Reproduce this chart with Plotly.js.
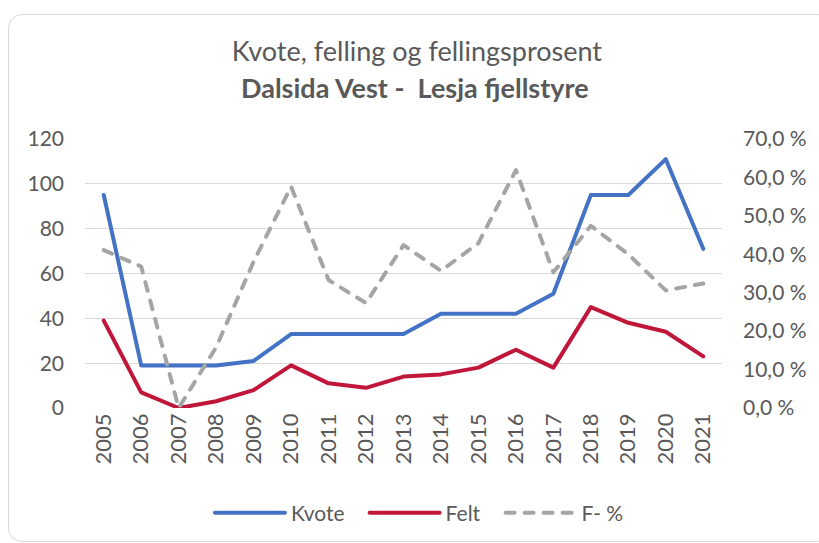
<!DOCTYPE html>
<html>
<head>
<meta charset="utf-8">
<script src="https://cdn.plot.ly/plotly-3.0.1.min.js"></script>
<style>
html,body{margin:0;padding:0;background:#fff;}
#chart{width:819px;height:543px;position:absolute;left:0;top:0;}
#frame{position:absolute;left:8px;top:14px;width:822px;height:526px;border:1.5px solid #d9d9d9;border-radius:14px;pointer-events:none;}
</style>
</head>
<body>
<div id="chart"></div>
<div id="frame"></div>
<script>
const years = ['2005','2006','2007','2008','2009','2010','2011','2012','2013','2014','2015','2016','2017','2018','2019','2020','2021'];
const kvote = [95,19,19,19,21,33,33,33,33,42,42,42,51,95,95,111,71];
const felt  = [39,7,0,3,8,19,11,9,14,15,18,26,18,45,38,34,23];
const fPct  = [41.1,36.8,0.0,15.8,38.1,57.6,33.3,27.3,42.4,35.7,42.9,61.9,35.3,47.4,40.0,30.6,32.4];

const titleText = 'Kvote, felling og fellingsprosent';
const subTitleText = 'Dalsida Vest -  Lesja fjellstyre';

const txt = '#595959';
const fontFam = 'Lato, "Open Sans", sans-serif';

const traces = [
  {x: years, y: kvote, name: 'Kvote', type: 'scatter', mode: 'lines',
   line: {color: '#4472C4', width: 4}},
  {x: years, y: felt, name: 'Felt', type: 'scatter', mode: 'lines',
   line: {color: '#C0163A', width: 4}},
  {x: years, y: fPct, name: 'F- %', type: 'scatter', mode: 'lines', yaxis: 'y2',
   line: {color: '#A5A5A5', width: 4, dash: '9px,10px'}}
];

const layout = {
  width: 819, height: 543,
  paper_bgcolor: '#fff', plot_bgcolor: '#fff',
  separators: ', ',
  font: {family: fontFam, color: txt, size: 21},
  margin: {l: 85, r: 97, t: 139, b: 135},
  title: {text: titleText, font: {family: fontFam, size: 27, color: txt},
          x: 0.509, xanchor: 'center', y: 1 - 52 / 543, yanchor: 'middle', yref: 'container'},
  annotations: [{text: '<b>' + subTitleText + '</b>', xref: 'paper', yref: 'paper',
    x: 0.518, y: 1.0 + (139 - 88) / 269, xanchor: 'center', yanchor: 'middle',
    showarrow: false, font: {family: fontFam, size: 27, color: txt}}],
  xaxis: {type: 'category', range: [-0.5, 16.5], tickangle: -90, showgrid: false,
          showline: false, ticks: '', tickfont: {size: 22, color: txt}, fixedrange: true,
          automargin: false},
  yaxis: {range: [0, 120], dtick: 20, tick0: 0, gridcolor: '#d9d9d9', gridwidth: 1.3,
          zeroline: false, showline: false, ticks: '', tickfont: {size: 21, color: txt},
          ticklabelstandoff: 20, automargin: false},
  yaxis2: {range: [0, 70], dtick: 10, tick0: 0, overlaying: 'y', side: 'right',
           showgrid: false, zeroline: false, showline: false, ticks: '',
           tickformat: '.1f', ticksuffix: ' %', tickfont: {size: 21, color: txt},
           ticklabelstandoff: 20, automargin: false},
  legend: {orientation: 'h', x: 0.503, xanchor: 'center', xref: 'container',
           y: 1 - 513 / 543, yanchor: 'middle', yref: 'container',
           font: {size: 21, color: txt}, itemwidth: 86, tracegroupgap: 0},
  showlegend: true
};

Plotly.newPlot('chart', traces, layout, {displayModeBar: false, staticPlot: true}).then(function (gd) {
  gd.querySelectorAll('.legendlines path').forEach(function (p) {
    p.setAttribute('d', 'M20,0h70');
    p.style.strokeLinecap = 'round';
  });
  gd.querySelectorAll('.scatterlayer .js-line').forEach(function (p) {
    p.style.strokeLinecap = 'round';
    p.style.strokeLinejoin = 'round';
  });
});
</script>
</body>
</html>
